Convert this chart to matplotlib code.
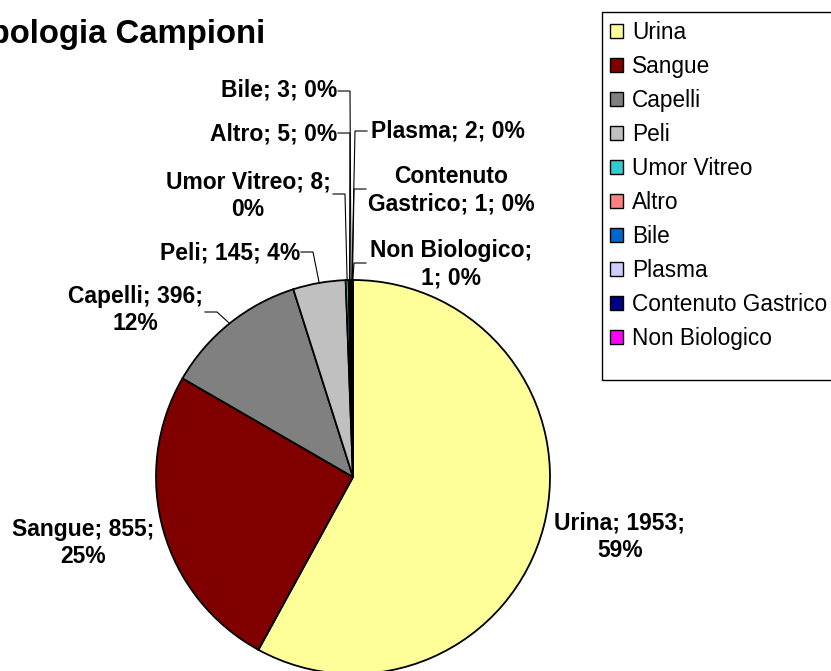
import numpy as np
import matplotlib
matplotlib.use('Agg')
import matplotlib.pyplot as plt
from matplotlib.patches import Patch, Rectangle

categories = ['Urina', 'Sangue', 'Capelli', 'Peli', 'Umor Vitreo', 'Altro',
              'Bile', 'Plasma', 'Contenuto Gastrico', 'Non Biologico']
counts = [1953, 855, 396, 145, 8, 5, 3, 2, 1, 1]
percent_labels = ['59%', '25%', '12%', '4%', '0%', '0%', '0%', '0%', '0%', '0%']
colors = ['#FFFF99', '#800000', '#808080', '#C0C0C0', '#33CCCC', '#FF8080',
          '#0066CC', '#CCCCFF', '#000080', '#FF00FF']
title = 'Tipologia Campioni'

W, H = 831, 671
plt.rcParams['font.family'] = ['Liberation Sans', 'DejaVu Sans']
fig = plt.figure(figsize=(W / 100, H / 100), dpi=100)
ax = fig.add_axes([0, 0, 1, 1])


def Y(py):
    return H - py


cx, cy, R = 353, Y(477), 197
wedges, _ = ax.pie(counts, colors=colors, startangle=90, counterclock=False,
                   center=(cx, cy), radius=R,
                   wedgeprops=dict(edgecolor='black', linewidth=1.3))
ax.set_xlim(0, W)
ax.set_ylim(0, H)
ax.axis('off')

# label text layouts
templates = ['{n}; {c};\n{p}', '{n}; {c};\n{p}', '{n}; {c};\n{p}', '{n}; {c}; {p}',
             '{n}; {c};\n{p}', '{n}; {c}; {p}', '{n}; {c}; {p}', '{n}; {c}; {p}',
             '{n1}\n{n2}; {c}; {p}', '{n};\n{c}; {p}']
# (x, y, ha) in pixels from top-left
label_pos = [(620, 537, 'center'), (83, 543, 'center'), (135, 310, 'center'),
             (300, 253, 'right'), (248, 196, 'center'), (337, 134, 'right'),
             (337, 90, 'right'), (371, 131, 'left'), (451, 190, 'center'),
             (451, 264, 'center')]
leader_start = [None, None, (205, 312), (301, 252), (333, 194), (338, 133),
                (338, 91), (367, 131), (366, 189), (366, 263)]
leader_len = 12

for i, w in enumerate(wedges):
    n = categories[i]
    parts = n.split(' ', 1)
    txt = templates[i].format(n=n, c=counts[i], p=percent_labels[i],
                              n1=parts[0], n2=parts[-1])
    x, y, ha = label_pos[i]
    ax.text(x, Y(y), txt, ha=ha, va='center', multialignment='center',
            fontsize=16.5, fontweight='bold', linespacing=1.25)
    if leader_start[i] is not None:
        th = np.deg2rad((w.theta1 + w.theta2) / 2)
        ex = cx + R * np.cos(th)
        ey = cy + R * np.sin(th)
        sx, sy = leader_start[i]
        direction = 1 if sx < ex else -1
        hx = sx + direction * leader_len
        ax.plot([sx, hx, ex], [Y(sy), Y(sy), ey], color='black', lw=0.8,
                solid_joinstyle='miter')

fig.text(265 / W, 1 - 43 / H, title, ha='right', va='baseline',
         fontsize=23.7, fontweight='bold')

# legend
handles = [Patch(facecolor=c, edgecolor='black', linewidth=1.0) for c in colors]
leg = fig.legend(handles, categories, loc='upper left',
                 bbox_to_anchor=(610 / W, 1 - 21 / H), frameon=False,
                 fontsize=16.3, handlelength=0.57, handleheight=0.57,
                 handletextpad=0.4, labelspacing=0.485, borderpad=0.0,
                 borderaxespad=0.0)
fig.patches.append(Rectangle((602 / W, 1 - 380 / H), 300 / W, 368 / H,
                             transform=fig.transFigure, fill=False,
                             edgecolor='black', linewidth=1.0))

fig.savefig('out.png', dpi=100)
